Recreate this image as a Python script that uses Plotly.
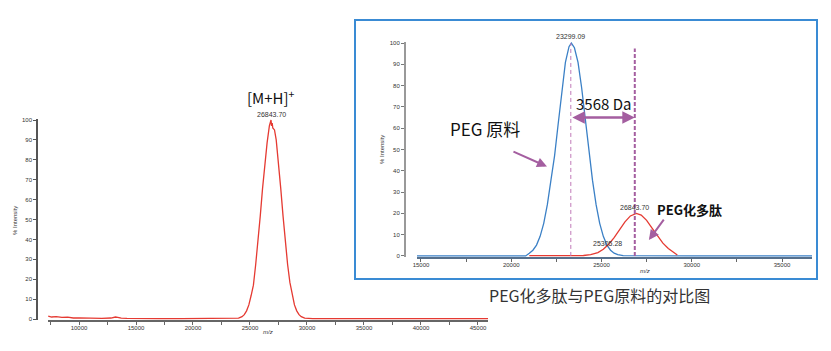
import plotly.graph_objects as go

# ---------------- data ----------------
# Left panel: full spectrum of the PEGylated peptide
left_mz = [7300, 7600, 8000, 8500, 9000, 9500, 10000, 11000, 12000, 12800, 13200, 13400,
           13700, 14200, 15000, 17000, 19000, 21000, 22000, 22600, 23000, 23500, 24000,
           24300, 24500, 24700, 24900, 25100, 25250, 25300, 25500, 25700, 25900, 26100,
           26300, 26450, 26500, 26700, 26843.7, 26900, 26950, 27000, 27150, 27300, 27500,
           27700, 27900, 28100, 28300, 28500, 28700, 28900, 29100, 29300, 29500, 29800,
           30500, 35000, 40000, 45880]
left_int = [1.5, 1.0, 1.2, 0.8, 0.9, 0.5, 0.6, 0.4, 0.3, 0.5, 1.0, 0.8,
            0.4, 0.3, 0.2, 0.2, 0.2, 0.2, 0.3, 0.5, 0.3, 0.4, 0.4,
            1.2, 2.2, 4.1, 7.1, 11.8, 15.5, 17.0, 27.4, 38.6, 51.7, 65.5,
            79.0, 86.0, 88.5, 97.0, 100.0, 97.0, 98.5, 96.0, 95.0, 90.0, 79.0,
            65.5, 51.7, 38.6, 27.4, 18.4, 11.8, 7.1, 4.1, 2.2, 1.2, 0.4,
            0.2, 0.2, 0.2, 0.2]

# Inset: PEG raw material (blue) vs PEGylated peptide (red)
peg_mz = [14780, 20000, 20800, 21000, 21200, 21400, 21600, 21800, 22000, 22200, 22400,
          22600, 22800, 23000, 23200, 23330, 23500, 23700, 23900, 24100, 24300, 24500,
          24700, 24900, 25100, 25300, 25500, 25700, 25900, 26200, 30000, 36660]
peg_int = [0, 0, 0, 1.3, 2.7, 5.1, 9.2, 15.3, 24.1, 35.6, 47.0,
           62.0, 78.0, 90.9, 98.3, 100.0, 97.8, 90.9, 79.0, 64.4, 49.4, 35.6,
           24.1, 15.3, 9.2, 5.1, 2.7, 1.3, 0.6, 0.1, 0, 0]

pep_mz = [21000, 22000, 23000, 24000, 24400, 24800, 25100, 25400, 25700, 26000, 26300,
          26600, 26930, 27200, 27500, 27800, 28100, 28400, 28700, 29000, 29200]
pep_int = [0.1, 0.1, 0.1, 0.2, 0.6, 1.6, 3.1, 5.5, 8.6, 12.4, 16.0,
           18.8, 20.0, 19.2, 16.7, 13.1, 9.4, 6.0, 3.5, 1.6, 0.4]

peak_labels_mz = [23299.09, 26843.70, 25305.28]
peak_labels_int = [100, 20, 6]
left_peak_mz = 26843.70
left_peak_int = 100
mass_shift = 3568

y_ticks = [0, 10, 20, 30, 40, 50, 60, 70, 80, 90, 100]

# ---------------- figure ----------------
RED = "#e53a32"
BLUE = "#3b80c6"
PURPLE = "#a45ea0"
SMALL = dict(family="Liberation Sans", size=6, color="#333")
CJK = "Noto Sans CJK SC"

fig = go.Figure()
fig.add_trace(go.Scatter(x=left_mz, y=left_int, mode="lines",
                         line=dict(color=RED, width=1.3), xaxis="x", yaxis="y",
                         showlegend=False, hoverinfo="skip"))
fig.add_trace(go.Scatter(x=peg_mz, y=peg_int, mode="lines",
                         line=dict(color=BLUE, width=1.3), xaxis="x2", yaxis="y2",
                         showlegend=False, hoverinfo="skip"))
fig.add_trace(go.Scatter(x=pep_mz, y=pep_int, mode="lines",
                         line=dict(color=RED, width=1.3), xaxis="x2", yaxis="y2",
                         showlegend=False, hoverinfo="skip"))

axis_common = dict(showgrid=False, zeroline=False, showline=True, ticks="outside",
                   ticklen=3, tickfont=SMALL)

fig.update_layout(
    width=831, height=351,
    margin=dict(l=0, r=0, t=0, b=0, autoexpand=False),
    paper_bgcolor="white", plot_bgcolor="rgba(0,0,0,0)",
    showlegend=False,
    xaxis=dict(domain=[48/831, 488/831], range=[7280, 45880], anchor="y",
               tickmode="linear", tick0=0, dtick=5000, tickformat="d",
               linecolor="#666", linewidth=1.5, tickcolor="#666", ticklabelstandoff=-2,
               minor=dict(ticks="outside", ticklen=3, dtick=2500, tick0=0, tickcolor="#666"),
               **axis_common),
    yaxis=dict(domain=[31/351, 232/351], range=[-0.5, 100.5], anchor="free",
               position=37/831, tickvals=y_ticks, linecolor="#555", linewidth=1.5,
               tickcolor="#555", **axis_common),
    xaxis2=dict(domain=[417/831, 812/831], range=[14780, 36660], anchor="y2",
                tickmode="linear", tick0=0, dtick=5000, tickformat="d",
                linecolor="#56708c", linewidth=2, tickcolor="#666", ticklabelstandoff=-2,
                minor=dict(ticks="outside", ticklen=3, dtick=2500, tick0=0, tickcolor="#666"),
                **axis_common),
    yaxis2=dict(domain=[94/351, 309/351], range=[-0.5, 100.5], anchor="free",
                position=405/831, tickvals=y_ticks, linecolor="#999", linewidth=2,
                tickcolor="#777", **axis_common),
)

shapes = [
    # inset frame
    dict(type="rect", xref="paper", yref="paper", x0=355/831, x1=817/831,
         y0=(351-279)/351, y1=(351-20)/351, line=dict(color="#3a8bd4", width=2)),
    # dashed peak markers
    dict(type="line", xref="x2", yref="y2", x0=peak_labels_mz[0], x1=peak_labels_mz[0],
         y0=0, y1=100, line=dict(color="#c07ab8", width=1, dash="4px,3px")),
    dict(type="line", xref="x2", yref="y2", x0=peak_labels_mz[1], x1=peak_labels_mz[1],
         y0=0, y1=97.5, line=dict(color=PURPLE, width=2, dash="4px,2px")),
]
fig.update_layout(shapes=shapes)


def paper_text(px, py, text, font, angle=0):
    return dict(xref="paper", yref="paper", x=px/831, y=(351-py)/351,
                xanchor="center", yanchor="middle", text=text, textangle=angle,
                showarrow=False, font=font)


ann = []
# Left panel labels
ann.append(dict(xref="x", yref="y", x=left_peak_mz, y=left_peak_int, yshift=6,
                text=f"{left_peak_mz:.2f}", showarrow=False,
                font=dict(family="Liberation Sans", size=7, color="#333")))
ann.append(dict(xref="x", yref="y", x=left_peak_mz, y=left_peak_int, yshift=23,
                text="[M+H]<sup>+</sup>", showarrow=False,
                font=dict(family=CJK, size=15, color="#111")))
ann.append(paper_text(15, 221, "% Intensity", SMALL, -90))
ann.append(paper_text(268, 332, "<i>m/z</i>", SMALL))
# Inset labels
ann.append(paper_text(382, 150, "% Intensity", SMALL, -90))
ann.append(paper_text(645, 271, "<i>m/z</i>", SMALL))
for mz, it, ys in zip(peak_labels_mz, peak_labels_int, [7, 6, 0]):
    ann.append(dict(xref="x2", yref="y2", x=mz + (50 if ys == 0 else 0), y=it, yshift=ys,
                    text=f"{mz:.2f}", showarrow=False,
                    font=dict(family="Liberation Sans", size=7, color="#333")))
# double-headed mass shift arrow
ann.append(dict(xref="x2", yref="y2", axref="x2", ayref="y2",
                x=peak_labels_mz[1], y=65, ax=peak_labels_mz[0], ay=65, text="",
                showarrow=True, arrowhead=2, startarrowhead=2, arrowside="end+start",
                arrowsize=1, arrowwidth=2.5, arrowcolor=PURPLE, standoff=0, startstandoff=0))
ann.append(dict(xref="x2", yref="y2", x=25130, y=71.5, text=f"{mass_shift} Da",
                showarrow=False, font=dict(family=CJK, size=15, color="#111")))
ann.append(dict(xref="x2", yref="y2", x=18540, y=60, text="PEG 原料",
                showarrow=False, font=dict(family=CJK, size=17, color="#111")))
ann.append(dict(xref="x2", yref="y2", axref="x2", ayref="y2",
                x=21980, y=42, ax=20040, ay=49.3, text="", showarrow=True,
                arrowhead=2, arrowsize=1, arrowwidth=2, arrowcolor=PURPLE, standoff=0))
ann.append(dict(xref="x2", yref="y2", x=29900, y=21.6, text="<b>PEG化多肽</b>",
                showarrow=False, font=dict(family=CJK, size=13, color="#111")))
ann.append(dict(xref="x2", yref="y2", axref="x2", ayref="y2",
                x=27625, y=7.5, ax=28510, ay=17.8, text="", showarrow=True,
                arrowhead=2, arrowsize=1, arrowwidth=2, arrowcolor=PURPLE, standoff=0))
# caption
ann.append(paper_text(599, 295, "PEG化多肽与PEG原料的对比图",
                      dict(family=CJK, size=16, color="#333")))
fig.update_layout(annotations=ann)

fig.write_html("out.html")
